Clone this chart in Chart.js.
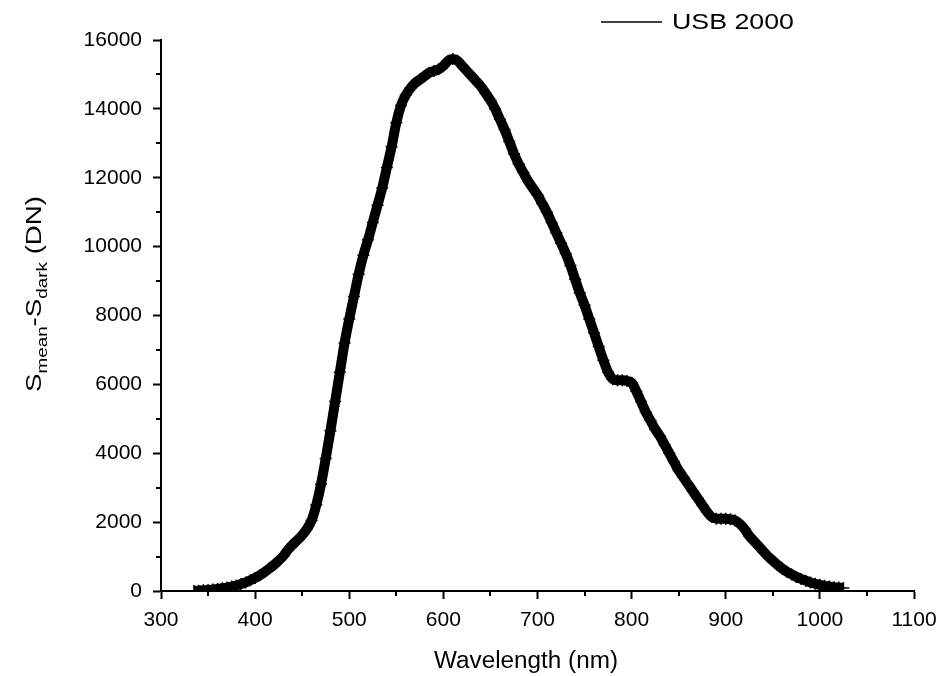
<!DOCTYPE html>
<html>
<head>
<meta charset="utf-8">
<script src="https://cdn.jsdelivr.net/npm/chart.js@4"></script>
<style>
  html, body { margin: 0; padding: 0; background: #fff; }
  #wrap { width: 941px; height: 676px; position: relative; }
</style>
</head>
<body>
<div id="wrap"><canvas id="grafico"></canvas></div>
<script>
// wavelength (nm) and signal (DN)
const comprimentos = [
  335, 340, 345, 350, 355, 360, 365, 370, 375, 380, 385, 390, 395, 400, 405, 410, 415, 420, 425, 430,
  435, 440, 445, 450, 455, 460, 465, 470, 475, 480, 485, 490, 495, 500, 505, 510, 515, 520, 525, 530,
  535, 540, 545, 550, 555, 560, 565, 570, 575, 580, 585, 590, 595, 600, 605, 610, 615, 620, 625, 630,
  635, 640, 645, 650, 655, 660, 665, 670, 675, 680, 685, 690, 695, 700, 705, 710, 715, 720, 725, 730,
  735, 740, 745, 750, 755, 760, 765, 770, 775, 780, 785, 790, 795, 800, 805, 810, 815, 820, 825, 830,
  835, 840, 845, 850, 855, 860, 865, 870, 875, 880, 885, 890, 895, 900, 905, 910, 915, 920, 925, 930,
  935, 940, 945, 950, 955, 960, 965, 970, 975, 980, 985, 990, 995, 1000, 1005, 1010, 1015, 1020, 1025
];
const sinalUSB = [
  0, 10, 20, 30, 45, 60, 80, 100, 130, 160, 200, 250, 310, 380, 460, 550, 650, 760, 880, 1020,
  1200, 1350, 1480, 1620, 1800, 2050, 2500, 3100, 3850, 4650, 5500, 6350, 7200, 7900, 8550, 9200, 9750, 10200, 10700, 11200,
  11700, 12300, 12900, 13600, 14100, 14400, 14600, 14750, 14850, 14950, 15050, 15100, 15150, 15250, 15400, 15450, 15400, 15250, 15100, 14950,
  14800, 14650, 14450, 14250, 14000, 13700, 13400, 13050, 12700, 12400, 12150, 11900, 11700, 11500, 11250, 11000, 10700, 10400, 10100, 9800,
  9450, 9050, 8650, 8300, 7900, 7500, 7100, 6700, 6350, 6150, 6120, 6120, 6100, 6050, 5800, 5500, 5200, 4950, 4700, 4500,
  4250, 4000, 3750, 3500, 3300, 3100, 2900, 2700, 2500, 2300, 2150, 2100, 2100, 2100, 2080, 2050, 1950, 1800, 1600, 1450,
  1300, 1150, 1000, 880, 760, 650, 560, 480, 410, 350, 300, 250, 210, 180, 150, 130, 110, 100, 90
];
const rotuloSerie = 'USB 2000';
const xMin = 300, xMax = 1100, xPasso = 100;
const yMin = 0, yMax = 16000, yPasso = 2000;

const fonte = 'Arial, "Liberation Sans", sans-serif';

const pontos = comprimentos.map((x, i) => ({ x: x, y: sinalUSB[i] }));

// draws text stretched along its own direction to a given length
function textoEsticado(ctx, partes, cx, cy, comprimento, angulo) {
  let total = 0;
  partes.forEach(p => { ctx.font = p.f + fonte; p.w = ctx.measureText(p.t).width; total += p.w; });
  const k = comprimento / total;
  ctx.save();
  ctx.translate(cx, cy);
  ctx.rotate(angulo);
  ctx.scale(k, 1);
  ctx.textAlign = 'left';
  ctx.textBaseline = 'middle';
  let x = -total / 2;
  partes.forEach(p => {
    ctx.font = p.f + fonte;
    ctx.fillText(p.t, x, p.d || 0);
    x += p.w;
  });
  ctx.restore();
}

// minor ticks, axis titles with subscripts and the legend
const extras = {
  id: 'extras',
  afterDraw(chart) {
    const ctx = chart.ctx;
    const sx = chart.scales.x, sy = chart.scales.y;
    const area = chart.chartArea;
    ctx.save();
    ctx.strokeStyle = '#000';
    ctx.lineWidth = 2;
    ctx.beginPath();
    for (let v = xMin + xPasso / 2; v < xMax; v += xPasso) {
      const px = Math.round(sx.getPixelForValue(v));
      ctx.moveTo(px, area.bottom);
      ctx.lineTo(px, area.bottom + 5);
    }
    for (let v = yMin + yPasso / 2; v < yMax; v += yPasso) {
      const py = Math.round(sy.getPixelForValue(v));
      ctx.moveTo(area.left, py);
      ctx.lineTo(area.left - 5, py);
    }
    ctx.stroke();

    ctx.fillStyle = '#000';

    // x title
    textoEsticado(ctx, [{ t: 'Wavelength (nm)', f: '23px ' }], 526, 662, 184, 0);

    // y title: S_mean-S_dark (DN)
    textoEsticado(ctx, [
      { t: 'S', f: '22px ' },
      { t: 'mean', f: '15px ', d: 8 },
      { t: '-S', f: '22px ' },
      { t: 'dark', f: '15px ', d: 8 },
      { t: ' (DN)', f: '22px ' }
    ], 35, 294, 196, -Math.PI / 2);

    // legend
    ctx.lineWidth = 1.5;
    ctx.beginPath();
    ctx.moveTo(601, 22);
    ctx.lineTo(662, 22);
    ctx.stroke();
    textoEsticado(ctx, [{ t: rotuloSerie, f: '22px ' }], 672 + 61, 23, 122, 0);
    ctx.restore();
  }
};

const grafico = new Chart(document.getElementById('grafico'), {
  type: 'line',
  data: {
    datasets: [{
      label: rotuloSerie,
      data: pontos,
      borderColor: '#000',
      backgroundColor: '#000',
      borderWidth: 10,
      tension: 0.3,
      pointStyle: 'cross',
      pointRadius: 6,
      pointBorderWidth: 1.5,
      pointBorderColor: '#000',
      fill: false
    }]
  },
  options: {
    responsive: true,
    maintainAspectRatio: false,
    animation: false,
    layout: { padding: { left: 0, top: 40, right: 27, bottom: 0 } },
    plugins: {
      legend: { display: false },
      tooltip: { enabled: false }
    },
    scales: {
      x: {
        type: 'linear',
        min: xMin,
        max: xMax,
        afterFit: s => { s.height = 85; s.paddingLeft = 0; s.paddingRight = 0; },
        ticks: {
          stepSize: xPasso,
          color: '#000',
          padding: 9,
          font: { size: 21, family: fonte },
          callback: v => String(v)
        },
        grid: { drawOnChartArea: false, tickLength: 8, tickWidth: 2, tickColor: '#000' },
        border: { color: '#000', width: 2 }
      },
      y: {
        type: 'linear',
        min: yMin,
        max: yMax,
        afterFit: s => { s.width = 161; s.paddingTop = 0; s.paddingBottom = 0; },
        ticks: {
          stepSize: yPasso,
          color: '#000',
          padding: 11,
          font: { size: 21, family: fonte },
          callback: v => String(v)
        },
        grid: { drawOnChartArea: false, tickLength: 8, tickWidth: 2, tickColor: '#000' },
        border: { color: '#000', width: 2 }
      }
    }
  },
  plugins: [extras]
});
</script>
</body>
</html>
